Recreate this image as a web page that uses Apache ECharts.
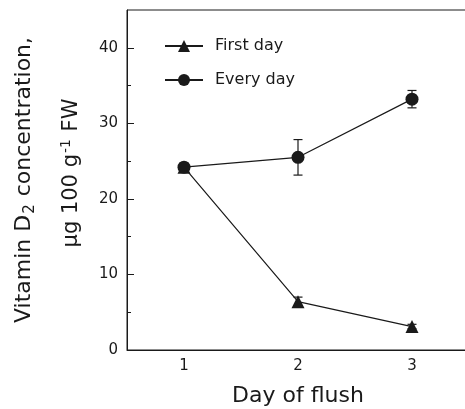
<!DOCTYPE html>
<html>
<head>
<meta charset="utf-8">
<script src="https://cdn.jsdelivr.net/npm/echarts@6/dist/echarts.min.js"></script>
<style>html,body{margin:0;padding:0;background:#fff;}#c{width:465px;height:409px;}</style>
</head>
<body>
<div id="c"></div>
<script>
const categories = ['1', '2', '3'];
const firstDay = [24.2, 6.4, 3.1];
const firstDayErr = [0.5, 0.6, 0.3];
const everyDay = [24.2, 25.5, 33.2];
const everyDayErr = [0.5, 2.35, 1.15];
const yMajorTicks = [0, 10, 20, 30, 40];
const yMinorTicks = [5, 15, 25, 35];

const INK = '#1a1a1a';
const FONT = 'DejaVu Sans';

function errData(vals, errs) {
  return vals.map((v, i) => [i, v - errs[i], v + errs[i]]);
}
function errRender(params, api) {
  const x = api.value(0);
  const lo = api.coord([x, api.value(1)]);
  const hi = api.coord([x, api.value(2)]);
  const hw = 4.5;
  const style = { stroke: INK, lineWidth: 1.2 };
  return {
    type: 'group',
    children: [
      { type: 'line', shape: { x1: lo[0], y1: lo[1], x2: hi[0], y2: hi[1] }, style },
      { type: 'line', shape: { x1: lo[0] - hw, y1: lo[1], x2: lo[0] + hw, y2: lo[1] }, style },
      { type: 'line', shape: { x1: hi[0] - hw, y1: hi[1], x2: hi[0] + hw, y2: hi[1] }, style }
    ]
  };
}

const chart = echarts.init(document.getElementById('c'));
chart.setOption({
  animation: false,
  backgroundColor: '#fff',
  textStyle: { fontFamily: FONT, color: INK },
  grid: { left: 127, top: 10, width: 342, height: 340, show: true, borderColor: INK, borderWidth: 1, outerBoundsMode: 'none', containLabel: false },
  legend: {
    orient: 'vertical',
    left: 159, top: 33,
    itemWidth: 38, itemHeight: 15, itemGap: 18,
    data: ['First day', 'Every day'],
    textStyle: { fontFamily: FONT, fontSize: 16, color: INK, lineHeight: 16, padding: [0, 0, 0, 7] }
  },
  xAxis: {
    type: 'category',
    data: categories,
    boundaryGap: true,
    axisLine: { lineStyle: { color: INK, width: 1 } },
    axisTick: { show: false },
    axisLabel: { fontFamily: FONT, fontSize: 15, color: INK, margin: 9 },
    name: 'Day of flush',
    nameLocation: 'middle',
    nameGap: 35,
    nameTextStyle: { fontFamily: FONT, fontSize: 22, color: INK }
  },
  yAxis: [
    {
      type: 'value', min: 0, max: 45,
      splitLine: { show: false },
      axisLine: { show: true, lineStyle: { color: INK, width: 1 } },
      axisTick: { show: true, inside: true, length: 7, customValues: yMajorTicks, lineStyle: { color: INK } },
      axisLabel: { fontFamily: FONT, fontSize: 15, color: INK, margin: 9, customValues: yMajorTicks }
    },
    {
      type: 'value', min: 0, max: 45, position: 'left',
      splitLine: { show: false },
      axisLine: { show: false },
      axisTick: { show: true, inside: true, length: 4, customValues: yMinorTicks, lineStyle: { color: INK } },
      axisLabel: { show: false }
    }
  ],
  graphic: [
    {
      type: 'text', x: 24, y: 180, rotation: Math.PI / 2,
      style: {
        text: '{a|Vitamin D}{s|2}{a| concentration,}',
        align: 'center', verticalAlign: 'middle', fill: INK,
        rich: {
          a: { fontFamily: FONT, fontSize: 22, fill: INK },
          s: { fontFamily: FONT, fontSize: 15, fill: INK, padding: [13, 1, 0, 1] }
        }
      }
    },
    {
      type: 'text', x: 72, y: 173, rotation: Math.PI / 2,
      style: {
        text: '{a|µg 100 g}{p|-1}{a| FW}',
        align: 'center', verticalAlign: 'middle', fill: INK,
        rich: {
          a: { fontFamily: FONT, fontSize: 21, fill: INK },
          p: { fontFamily: FONT, fontSize: 14, fill: INK, padding: [0, 1, 12, 1] }
        }
      }
    }
  ],
  series: [
    {
      name: 'First day', type: 'line', data: firstDay,
      symbol: 'triangle', symbolSize: 13,
      itemStyle: { color: INK }, lineStyle: { color: INK, width: 1.2 }, z: 3
    },
    {
      name: 'Every day', type: 'line', data: everyDay,
      symbol: 'circle', symbolSize: 13,
      itemStyle: { color: INK }, lineStyle: { color: INK, width: 1.2 }, z: 3
    },
    { type: 'custom', renderItem: errRender, data: errData(firstDay, firstDayErr), z: 2, silent: true },
    { type: 'custom', renderItem: errRender, data: errData(everyDay, everyDayErr), z: 2, silent: true }
  ]
});
</script>
</body>
</html>
